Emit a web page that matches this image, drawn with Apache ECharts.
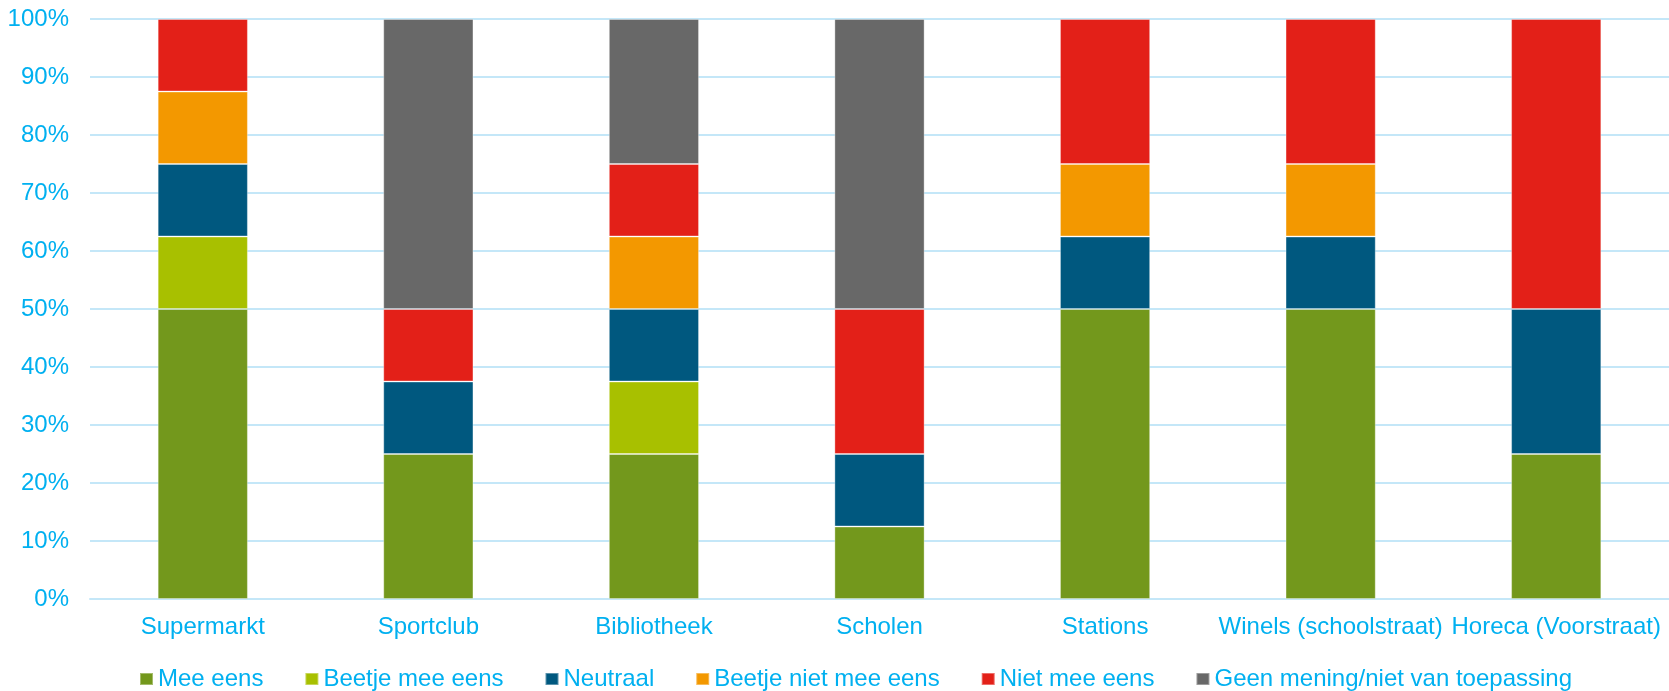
<!DOCTYPE html>
<html>
<head>
<meta charset="utf-8">
<script src="https://cdn.jsdelivr.net/npm/echarts@6/dist/echarts.min.js"></script>
<style>
html,body{margin:0;padding:0;background:#fff;}
#chart{width:1669px;height:691px;}
</style>
</head>
<body>
<div id="chart"></div>
<script>
const categories = ['Supermarkt', 'Sportclub', 'Bibliotheek', 'Scholen', 'Stations', 'Winels (schoolstraat)', 'Horeca (Voorstraat)'];
const seriesNames = ['Mee eens', 'Beetje mee eens', 'Neutraal', 'Beetje niet mee eens', 'Niet mee eens', 'Geen mening/niet van toepassing'];
const meeEens = [50, 25, 25, 12.5, 50, 50, 25];
const beetjeMeeEens = [12.5, 0, 12.5, 0, 0, 0, 0];
const neutraal = [12.5, 12.5, 12.5, 12.5, 12.5, 12.5, 25];
const beetjeNietMeeEens = [12.5, 0, 12.5, 0, 12.5, 12.5, 0];
const nietMeeEens = [12.5, 12.5, 12.5, 25, 25, 25, 50];
const geenMening = [0, 50, 25, 50, 0, 0, 0];
const yTicks = [0, 10, 20, 30, 40, 50, 60, 70, 80, 90, 100];

const colors = ['#73981c', '#a8c000', '#00587f', '#f39800', '#e32018', '#686868'];
const allValues = [meeEens, beetjeMeeEens, neutraal, beetjeNietMeeEens, nietMeeEens, geenMening];
const textColor = '#00b0f0';
const gridColor = '#c4e7f8';
const font = '"Liberation Sans", Arial, sans-serif';

const chart = echarts.init(document.getElementById('chart'), null, {renderer: 'canvas'});
chart.setOption({
  animation: false,
  color: colors,
  grid: {left: 90, right: -8, top: 19, bottom: 92, containLabel: false},
  legend: {
    left: 139,
    top: 667,
    padding: 0,
    itemWidth: 13,
    itemHeight: 12,
    itemGap: 41,
    icon: 'rect',
    textStyle: {color: textColor, fontSize: 24, fontFamily: font},
    data: seriesNames
  },
  xAxis: {
    type: 'category',
    data: categories,
    axisTick: {show: false},
    axisLine: {show: true, lineStyle: {color: gridColor, width: 2}},
    axisLabel: {color: textColor, fontSize: 24, fontFamily: font, margin: 16, interval: 0}
  },
  yAxis: {
    type: 'value',
    min: yTicks[0],
    max: yTicks[yTicks.length - 1],
    interval: 10,
    axisLine: {show: false},
    axisTick: {show: false},
    splitLine: {lineStyle: {color: gridColor, width: 2}},
    axisLabel: {color: textColor, fontSize: 24, fontFamily: font, margin: 21, formatter: '{value}%'}
  },
  series: seriesNames.map((name, i) => ({
    name: name,
    type: 'bar',
    stack: 'total',
    barCategoryGap: '60%',
    itemStyle: {color: colors[i], borderColor: 'rgba(255,255,255,0.35)', borderWidth: 1},
    data: allValues[i].map(v => v === 0 ? null : v)
  }))
});
</script>
</body>
</html>
